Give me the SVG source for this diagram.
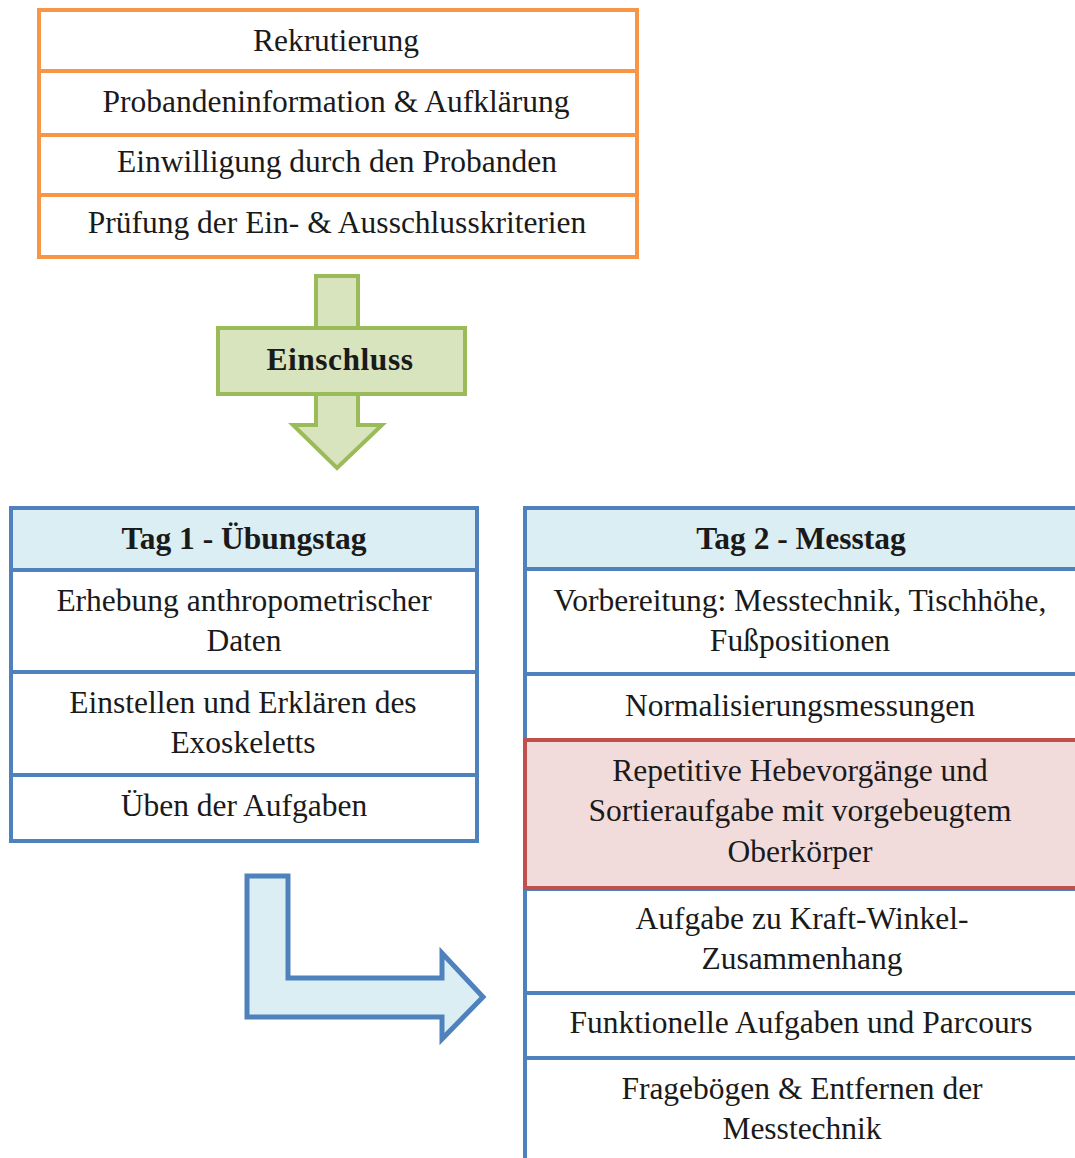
<svg xmlns="http://www.w3.org/2000/svg" width="1075" height="1158" viewBox="0 0 1075 1158">
<style>
text{font-family:'Liberation Serif','Tinos','Times New Roman','DejaVu Serif',serif;font-size:31.5px;fill:#1a1a1a;text-anchor:middle}
.b{font-weight:bold}
.or{fill:#fff;stroke:#f79646;stroke-width:4}
.bl{fill:#fff;stroke:#4f81bd;stroke-width:4}
.hd{fill:#dbeef4;stroke:#4f81bd;stroke-width:4}
.rd{fill:#f2dcdb;stroke:#c0504d;stroke-width:4}
.gr{fill:#d7e4bd;stroke:#9bbb59;stroke-width:4}
.la{fill:#dbeef4;stroke:#4f81bd;stroke-width:5}
</style>
<rect width="1075" height="1158" fill="#fff"/>
<g id="screening">
<rect class="or" x="39" y="10" width="598" height="61"/>
<rect class="or" x="39" y="71" width="598" height="64"/>
<rect class="or" x="39" y="135" width="598" height="60"/>
<rect class="or" x="39" y="195" width="598" height="62"/>
<text x="336" y="51">Rekrutierung</text>
<text x="336" y="112">Probandeninformation &amp; Aufklärung</text>
<text x="337" y="172">Einwilligung durch den Probanden</text>
<text x="337" y="233">Prüfung der Ein- &amp; Ausschlusskriterien</text>
</g>
<g id="einschluss">
<polygon class="gr" points="316,276 358,276 358,425 382,425 337,468 293,425 316,425"/>
<rect class="gr" x="218" y="328" width="247" height="66"/>
<text class="b" x="340" y="370" letter-spacing="0.5">Einschluss</text>
</g>
<g id="tag1">
<rect class="hd" x="11" y="508" width="466" height="62"/>
<rect class="bl" x="11" y="570" width="466" height="102"/>
<rect class="bl" x="11" y="672" width="466" height="103"/>
<rect class="bl" x="11" y="775" width="466" height="66"/>
<text class="b" x="244" y="549">Tag 1 - Übungstag</text>
<text x="244" y="611">Erhebung anthropometrischer</text>
<text x="244" y="651">Daten</text>
<text x="243" y="713">Einstellen und Erklären des</text>
<text x="243" y="753">Exoskeletts</text>
<text x="244" y="816">Üben der Aufgaben</text>
</g>
<g id="tag2">
<rect class="hd" x="525" y="508" width="556" height="61"/>
<rect class="bl" x="525" y="569" width="556" height="105"/>
<rect class="bl" x="525" y="674" width="556" height="66"/>
<rect class="bl" x="525" y="889" width="556" height="104"/>
<rect class="bl" x="525" y="993" width="556" height="65"/>
<rect class="bl" x="525" y="1058" width="556" height="110"/>
<rect class="rd" x="525" y="740" width="556" height="148"/>
<text class="b" x="801" y="549">Tag 2 - Messtag</text>
<text x="800" y="611">Vorbereitung: Messtechnik, Tischhöhe,</text>
<text x="800" y="651">Fußpositionen</text>
<text x="800" y="716">Normalisierungsmessungen</text>
<text x="800" y="781">Repetitive Hebevorgänge und</text>
<text x="800" y="821">Sortieraufgabe mit vorgebeugtem</text>
<text x="800" y="862">Oberkörper</text>
<text x="802" y="929">Aufgabe zu Kraft-Winkel-</text>
<text x="802" y="969">Zusammenhang</text>
<text x="801" y="1033">Funktionelle Aufgaben und Parcours</text>
<text x="802" y="1099">Fragebögen &amp; Entfernen der</text>
<text x="802" y="1139">Messtechnik</text>
</g>
<g id="connectors">
<polygon class="la" points="247,876 288,876 288,978 442,978 442,953 483,997 442,1039 442,1017 247,1017"/>
</g>
</svg>
